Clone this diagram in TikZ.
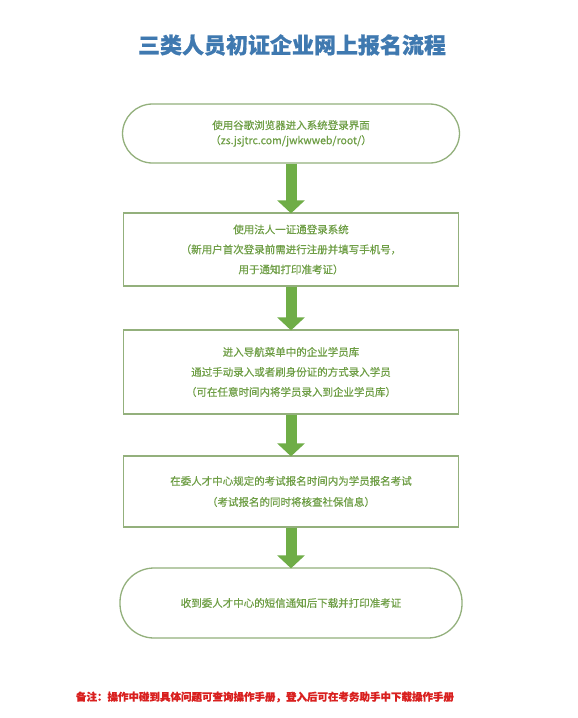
\documentclass[tikz,border=0pt]{standalone}
\usepackage{fontspec}
\setmainfont{Noto Sans CJK SC}
\newfontfamily\cjk{Noto Sans CJK SC}[FakeBold=0.6]
\usetikzlibrary{arrows.meta}
\definecolor{stepgreen}{HTML}{6E9E45}
\definecolor{framegreen}{HTML}{93B07C}
\definecolor{arrowgreen}{HTML}{6FAD47}
\definecolor{titleblue}{HTML}{3F79B0}
\definecolor{noteRed}{HTML}{D9201F}
\begin{document}
\begin{tikzpicture}[x=1pt,y=-1pt,
  stepbox/.style={draw=framegreen, line width=1.3pt, fill=white, align=center,
    text=stepgreen, font=\cjk\fontsize{10.5}{20}\selectfont, inner sep=0pt},
  roundbox/.style={stepbox, rounded corners=30pt},
  flowarrow/.style={draw=arrowgreen, line width=11pt, -{Triangle[width=27pt,length=13pt]}, shorten >=-1pt}]
\useasboundingbox (0,0) rectangle (578,718);
\fill[white] (0,0) rectangle (578,718);
\node[font=\cjk\bfseries\fontsize{22}{24}\selectfont, text=titleblue] (title) at (292,45) {三类人员初证企业网上报名流程};
% steps
\node[roundbox, minimum width=337pt, minimum height=59pt, font=\cjk\fontsize{10.5}{15}\selectfont] (a) at (291,133.5) {使用谷歌浏览器进入系统登录界面\\（zs.jsjtrc.com/jwkwweb/root/）};
\node[stepbox, minimum width=335pt, minimum height=73pt] (b) at (291,249.5) {使用法人一证通登录系统\\（新用户首次登录前需进行注册并填写手机号，\\用于通知打印准考证）};
\node[stepbox, minimum width=335pt, minimum height=84pt] (c) at (291,372) {进入导航菜单中的企业学员库\\通过手动录入或者刷身份证的方式录入学员\\（可在任意时间内将学员录入到企业学员库）};
\node[stepbox, minimum width=335pt, minimum height=71pt, font=\cjk\fontsize{10.5}{21}\selectfont] (d) at (291,491.5) {在委人才中心规定的考试报名时间内为学员报名考试\\（考试报名的同时将核查社保信息）};
\node[roundbox, minimum width=342pt, minimum height=70pt, rounded corners=34pt] (e) at (291,603) {收到委人才中心的短信通知后下载并打印准考证};
\draw[flowarrow] (a.south) -- (b.north);
\draw[flowarrow] (b.south) -- (c.north);
\draw[flowarrow] (c.south) -- (d.north);
\draw[flowarrow] (d.south) -- (e.north);
% note
\node[font=\cjk\bfseries\fontsize{10.5}{12}\selectfont, text=noteRed] (note) at (265,697) {备注：操作中碰到具体问题可查询操作手册，登入后可在考务助手中下载操作手册};
\end{tikzpicture}
\end{document}
